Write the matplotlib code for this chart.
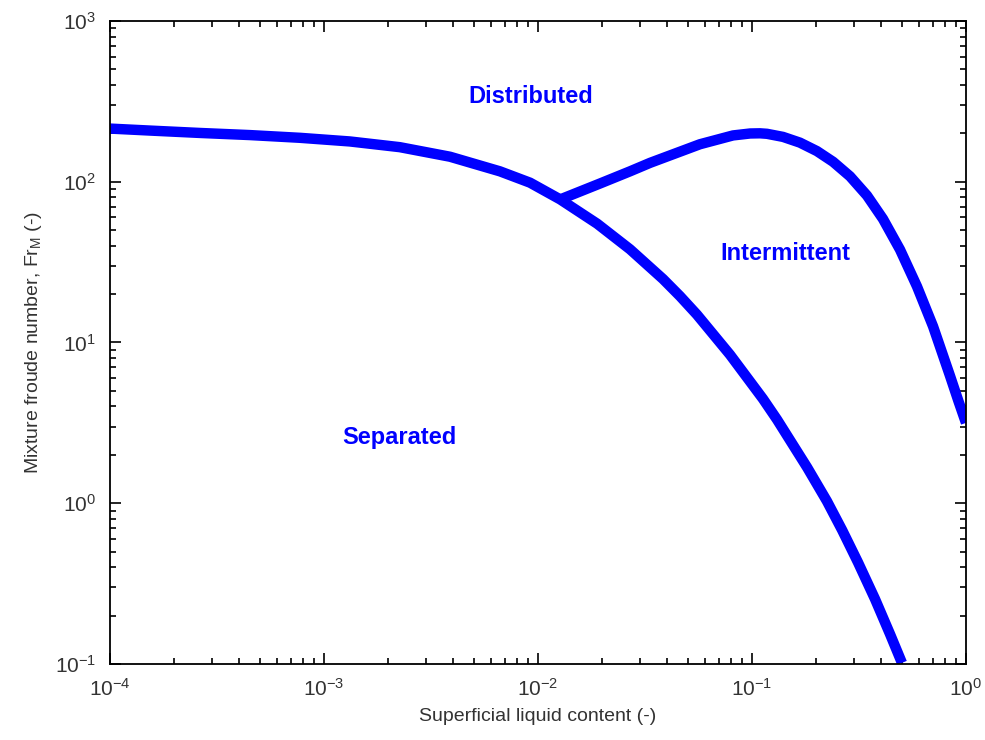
import matplotlib
matplotlib.use("Agg")
import matplotlib.pyplot as plt
from matplotlib.ticker import LogLocator, NullFormatter

plt.rcParams['font.family'] = ['Liberation Sans', 'DejaVu Sans']
plt.rcParams['mathtext.fontset'] = 'custom'
plt.rcParams['mathtext.rm'] = 'Liberation Sans'
plt.rcParams['mathtext.it'] = 'Liberation Sans:italic'

# Lower boundary (separated / other regimes)
sep_x = [1e-4, 1.54e-4, 2.64e-4, 4.51e-4, 7.73e-4, 1.32e-3, 2.26e-3, 3.88e-3,
         6.64e-3, 9.18e-3, 0.0127, 0.0189, 0.0269, 0.0384, 0.0461, 0.0553,
         0.0789, 0.1125, 0.131, 0.181, 0.224, 0.264, 0.313, 0.376, 0.442, 0.502]
sep_y = [214, 208, 201, 195, 187.5, 178, 164, 143,
         116, 98.6, 77.6, 54.8, 38.0, 24.8, 19.4, 14.9,
         8.4, 4.46, 3.31, 1.67, 1.03, 0.679, 0.428, 0.253, 0.153, 0.1016]

# Upper branch (intermittent / distributed boundary)
int_x = [0.0127, 0.0195, 0.0269, 0.0334, 0.0571, 0.0815, 0.098, 0.109, 0.1175,
         0.1396, 0.1675, 0.2012, 0.2393, 0.2871, 0.3447, 0.4093, 0.4917,
         0.5903, 0.7015, 0.842, 0.923, 1.0]
int_y = [77.6, 97.5, 116, 131, 171, 194, 199.5, 200, 198.6,
         190, 175, 155, 133, 108, 82, 58.7, 37.8,
         22.3, 12.6, 6.2, 4.3, 3.16]

labels = ["Distributed", "Intermittent", "Separated"]
label_x = [9.2e-3, 0.1425, 2.26e-3]
label_y = [337, 36, 2.58]

fig = plt.figure(figsize=(9.85, 7.4), dpi=100)
ax = fig.add_axes([0.1117, 0.1027, 0.869, 0.869])

blue = '#0000ff'
ax.plot(sep_x, sep_y, color=blue, lw=7.5, solid_capstyle='butt', solid_joinstyle='round')
ax.plot(int_x, int_y, color=blue, lw=7.5, solid_capstyle='butt', solid_joinstyle='round')

for t, x, y in zip(labels, label_x, label_y):
    ax.text(x, y, t, color=blue, fontsize=17, fontweight='bold', ha='center', va='center')

ax.set_xscale('log')
ax.set_yscale('log')
ax.set_xlim(1e-4, 1)
ax.set_ylim(1e-1, 1e3)

ax.xaxis.set_major_locator(LogLocator(base=10, numticks=10))
ax.yaxis.set_major_locator(LogLocator(base=10, numticks=10))
ax.xaxis.set_minor_locator(LogLocator(base=10, subs=range(2, 10), numticks=20))
ax.yaxis.set_minor_locator(LogLocator(base=10, subs=range(2, 10), numticks=20))
ax.xaxis.set_minor_formatter(NullFormatter())
ax.yaxis.set_minor_formatter(NullFormatter())

ax.tick_params(which='both', direction='in', top=True, right=True, colors='black',
               labelcolor='#333333', width=1.2)
ax.tick_params(which='major', length=8, labelsize=15, pad=10)
ax.tick_params(which='minor', length=4.5)
for s in ax.spines.values():
    s.set_linewidth(1.3)

ax.set_xlabel("Superficial liquid content (-)", fontsize=14, color='#333333', labelpad=6)
ax.set_ylabel("Mixture froude number, Fr$_\\mathregular{M}$ (-)", fontsize=14,
              color='#333333', labelpad=8)

fig.savefig("out.png", dpi=100)
